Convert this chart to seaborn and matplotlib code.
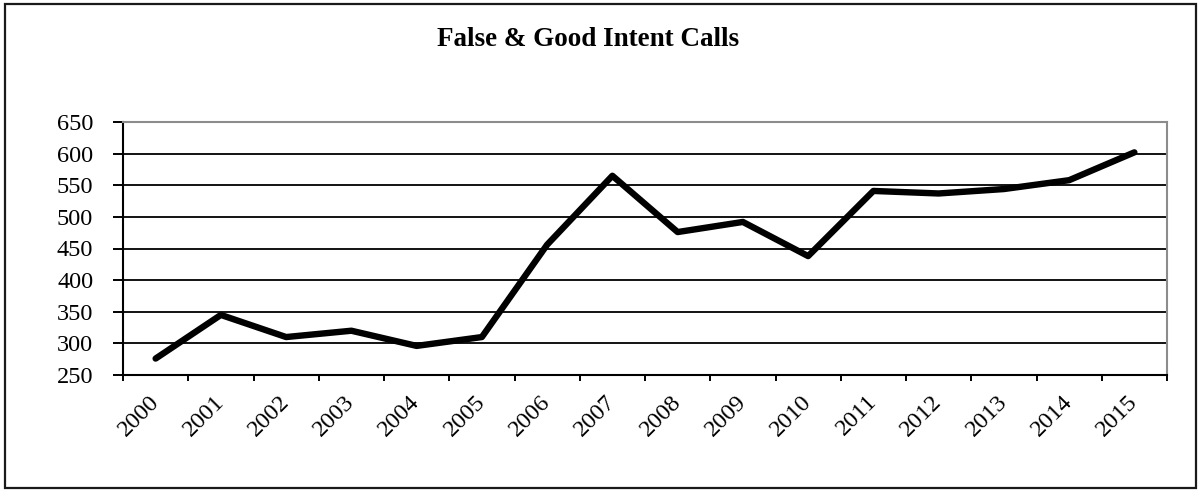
import matplotlib
matplotlib.use("Agg")
import matplotlib.pyplot as plt
import seaborn as sns
import pandas as pd
import numpy as np
from matplotlib.patches import Rectangle

years = ["2000", "2001", "2002", "2003", "2004", "2005", "2006", "2007",
         "2008", "2009", "2010", "2011", "2012", "2013", "2014", "2015"]
calls = [276, 345, 310, 320, 296, 310, 456, 565,
         476, 492, 438, 541, 537, 544, 558, 602]
y_ticks = [250, 300, 350, 400, 450, 500, 550, 600, 650]
title = "False & Good Intent Calls"

sns.set_style("white")
plt.rcParams["font.family"] = ["Liberation Serif", "DejaVu Serif"]
plt.rcParams["text.color"] = "black"
plt.rcParams["xtick.color"] = "black"
plt.rcParams["ytick.color"] = "black"
plt.rcParams["xtick.labelcolor"] = "black"
plt.rcParams["ytick.labelcolor"] = "black"

W, H = 1201, 492
fig = plt.figure(figsize=(W / 100, H / 100), dpi=100)
fig.patch.set_facecolor("white")

ax = fig.add_axes([123 / W, 1 - 375 / H, (1167 - 123) / W, (375 - 122) / H])

df = pd.DataFrame({"pos": np.arange(len(years)), "calls": calls})
sns.lineplot(data=df, x="pos", y="calls", ax=ax, color="black", linewidth=4.6,
             solid_joinstyle="round", solid_capstyle="round", legend=False)

ax.set_xlim(-0.5, len(years) - 0.5)
ax.set_ylim(y_ticks[0], y_ticks[-1])
ax.set_yticks(y_ticks)
ax.set_yticklabels([str(v) for v in y_ticks], fontsize=17.5, color="black")

# category labels at centers, tick marks at boundaries
ax.set_xticks(np.arange(len(years)))
ax.set_xticklabels(years, fontsize=17.5, rotation=45, ha="right", va="center",
                   rotation_mode="anchor", color="black")
ax.set_xticks(np.arange(len(years) + 1) - 0.5, minor=True)
ax.tick_params(axis="x", which="major", length=0, pad=17)
ax.tick_params(axis="x", which="minor", length=4.5, width=1.4, color="black",
               direction="out", bottom=True)
ax.tick_params(axis="y", which="major", length=7.5, width=1.4, color="black",
               direction="out", left=True, pad=14)
ax.set_xlabel("")
ax.set_ylabel("")

for v in y_ticks[1:-1]:
    ax.axhline(v, color="black", linewidth=1.3, zorder=0.5)

ax.spines["left"].set_color("black")
ax.spines["left"].set_linewidth(1.5)
ax.spines["bottom"].set_color("black")
ax.spines["bottom"].set_linewidth(1.5)
ax.spines["top"].set_color("#8c8c8c")
ax.spines["top"].set_linewidth(1.5)
ax.spines["right"].set_color("#8c8c8c")
ax.spines["right"].set_linewidth(1.5)
for s in ax.spines.values():
    s.set_visible(True)

fig.text(588 / W, 1 - 39 / H, title, ha="center", va="center",
         fontsize=19.5, fontweight="bold", color="black")

fig.patches.append(Rectangle((4.5 / W, 4.5 / H), (1196 - 4.5) / W, (488 - 4.5) / H,
                             transform=fig.transFigure, fill=False,
                             edgecolor="#1a1a1a", linewidth=1.6))

fig.savefig("out.png", dpi=100)
